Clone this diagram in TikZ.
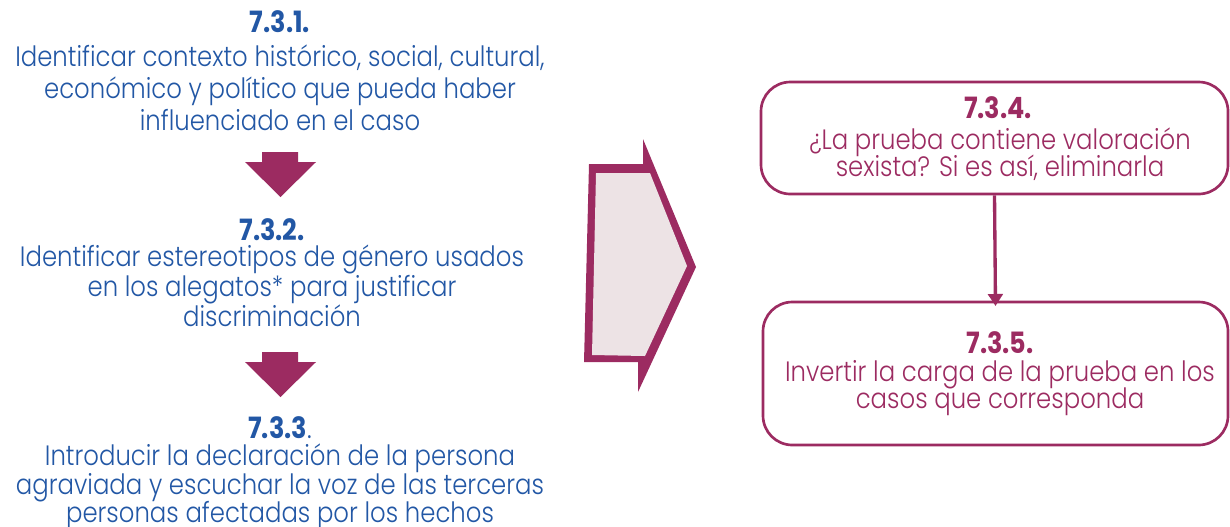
\documentclass[tikz,border=0pt]{standalone}
\usepackage{fontspec}
\setmainfont{Poppins}[UprightFont={* Light}, BoldFont={* Bold}, FakeStretch=0.87]
\usetikzlibrary{arrows.meta}
\definecolor{tblue}{HTML}{2257A5}
\definecolor{tpurple}{HTML}{9C2B61}
\definecolor{tpink}{HTML}{EDE3E5}
\begin{document}
\lineskiplimit=-100pt
\begin{tikzpicture}[x=0.75pt,y=-0.75pt,
  head/.style={font=\fontsize{22}{22}\selectfont\bfseries, inner sep=0pt, text=#1},
  body/.style={font=\fontsize{21}{#1}\selectfont, align=center, inner sep=0pt, text=tblue},
  rbody/.style={font=\fontsize{21}{20}\selectfont, align=center, inner sep=0pt, text=tpurple},
  rbox/.style={draw=tpurple, line width=2pt, rounded corners=22pt, inner sep=0pt},
  downarrow/.style={fill=tpurple, draw=none}]
\useasboundingbox (0,0) rectangle (1230,526);

% left column
\node[head=tblue] (h1) at (280,22) {7.3.1.};
\node[body=24] (p1) at (280,88) {Identificar contexto histórico, social, cultural,\\económico y político que pueda haber\\influenciado en el caso};
\node[head=tblue] (h2) at (272,230) {7.3.2.};
\node[body=22.5] (p2) at (272,286) {Identificar estereotipos de género usados\\en los alegatos* para justificar\hspace*{18pt}\\discriminación};
\node[head=tblue] (h3) at (280,428) {7.3.3\mdseries.};
\node[body=21.5] (p3) at (280,487) {Introducir la declaración de la persona\\agraviada y escuchar la voz de las terceras\\personas afectadas por los hechos};

% down arrows
\fill[downarrow] (262,152) -- (298,152) -- (298,162) -- (316,162) -- (280.5,197) -- (245,162) -- (262,162) -- cycle;
\fill[downarrow] (262,352) -- (298,352) -- (298,362) -- (316,362) -- (280.5,397) -- (245,362) -- (262,362) -- cycle;

% big chevron
\fill[tpurple] (589,164) -- (643,164) -- (643,139) -- (696,267) -- (638,392) -- (638,362) -- (584,362) -- cycle;
\fill[tpink] (596,173) -- (650,173) -- (687,266) -- (645,356) -- (592,355) -- cycle;

% right boxes
\node[rbox, minimum width=467*0.75pt, minimum height=112*0.75pt] (b4) at (994.5,138) {};
\node[rbox, minimum width=465*0.75pt, minimum height=143*0.75pt] (b5) at (995.5,373.5) {};
\node[head=tpurple] (h4) at (998,108) {7.3.4.};
\node[rbody] (p4) at (1000,154) {¿La prueba contiene valoración\\sexista? Si es así, eliminarla};
\node[head=tpurple] (h5) at (1000,343) {7.3.5.};
\node[rbody] (p5) at (1000,388) {Invertir la carga de la prueba en los\\casos que corresponda};

\draw[tpurple, line width=2.5pt, -{Triangle[width=11pt,length=9pt]}] (b4.south) -- ([yshift=-4pt]b5.north);
\end{tikzpicture}
\end{document}
